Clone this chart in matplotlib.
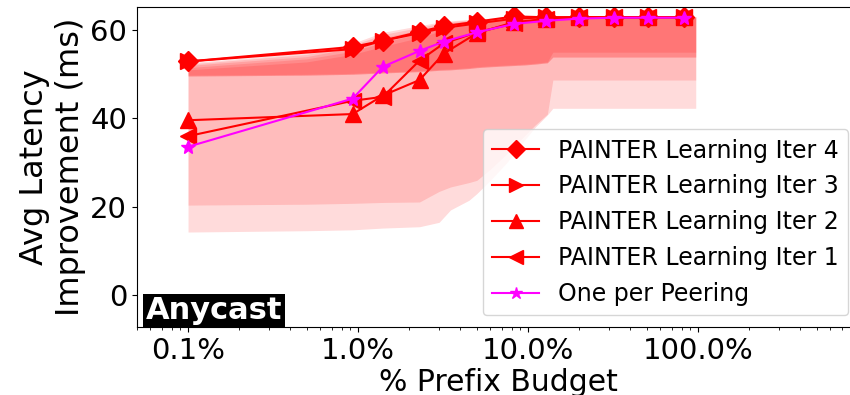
import numpy as np
import matplotlib.pyplot as plt
from matplotlib.ticker import FuncFormatter, LogLocator

# budget (% of prefixes) where each strategy was evaluated
budget = [0.1, 0.93, 1.4, 2.3, 3.2, 5.0, 8.3, 12.8, 20.0, 32.0, 51.0, 83.0]

iter4 = [52.9, 56.2, 57.6, 59.6, 60.9, 61.9, 63.1, 62.9, 62.9, 62.9, 62.9, 62.9]
iter3 = [52.9, 55.7, 57.6, 59.3, 60.5, 61.5, 62.6, 62.9, 62.9, 62.9, 62.9, 62.9]
iter2 = [39.6, 41.0, 45.2, 48.7, 54.7, 59.3, 61.8, 62.5, 62.9, 62.9, 62.9, 62.9]
iter1 = [36.0, 44.0, 44.9, 53.1, 57.0, 59.5, 61.5, 62.6, 62.9, 62.9, 62.9, 62.9]
one_per_peering = [33.6, 44.5, 51.7, 55.3, 57.4, 59.5, 61.4, 62.1, 62.6, 62.8, 62.8, 62.8]

# shaded spread, one layer per band (outer -> inner)
band_x = [0.1, 0.5, 0.93, 1.4, 2.3, 3.0, 3.5, 4.5, 5.0, 6.0, 7.5, 9.5, 11.0, 13.0, 14.0, 20.0, 50.0, 97.0]
band_lo = [
    [14.3, 14.6, 14.8, 15.2, 15.5, 16.5, 19.3, 21.5, 23.0, 26.0, 30.0, 35.0, 38.0, 40.8, 42.3, 42.3, 42.3, 42.3],
    [20.4, 20.6, 20.8, 21.0, 21.1, 23.5, 24.5, 25.5, 26.0, 28.5, 32.0, 36.0, 38.5, 41.0, 48.7, 48.7, 48.7, 48.7],
    [49.6, 49.8, 50.0, 50.3, 50.6, 50.9, 51.0, 51.3, 51.5, 51.7, 51.9, 52.1, 52.3, 52.6, 53.9, 53.9, 53.9, 53.9],
    [49.6, 49.8, 50.0, 50.3, 50.6, 50.9, 51.0, 51.3, 51.5, 51.7, 51.9, 52.1, 52.3, 52.6, 53.9, 53.9, 53.9, 53.9],
    [49.8, 50.0, 50.2, 50.5, 50.8, 51.1, 51.2, 51.5, 51.7, 51.9, 52.1, 52.3, 52.5, 52.8, 55.0, 55.0, 55.0, 55.0],
]
band_hi = [
    [52.6, 54.8, 57.0, 59.5, 61.0, 61.8, 62.1, 62.4, 62.5, 62.7, 62.9, 63.0, 63.0, 63.0, 63.0, 63.0, 63.0, 63.0],
    [52.3, 54.5, 56.6, 59.0, 60.6, 61.5, 61.9, 62.3, 62.4, 62.6, 62.8, 63.0, 63.0, 63.0, 63.0, 63.0, 63.0, 63.0],
    [52.0, 54.0, 56.0, 58.3, 60.0, 61.0, 61.6, 62.1, 62.3, 62.5, 62.7, 62.9, 63.0, 63.0, 63.0, 63.0, 63.0, 63.0],
    [51.5, 53.5, 55.2, 57.2, 59.2, 60.4, 61.1, 61.8, 62.0, 62.3, 62.6, 62.8, 63.0, 63.0, 63.0, 63.0, 63.0, 63.0],
    [51.0, 52.8, 54.5, 56.3, 58.3, 59.7, 60.6, 61.4, 61.8, 62.1, 62.5, 62.8, 63.0, 63.0, 63.0, 63.0, 63.0, 63.0],
]

fig = plt.figure(figsize=(8.5, 3.95), dpi=100)
ax = fig.add_axes([0.161, 0.172, 0.851, 0.810])

for lo, hi in zip(band_lo, band_hi):
    ax.fill_between(band_x, lo, hi, color='red', alpha=0.14, linewidth=0)

ax.plot(budget, iter4, color='red', marker='D', markersize=10, lw=1.5, label='PAINTER Learning Iter 4')
ax.plot(budget, iter3, color='red', marker='>', markersize=11, lw=1.5, label='PAINTER Learning Iter 3')
ax.plot(budget, iter2, color='red', marker='^', markersize=11, lw=1.5, label='PAINTER Learning Iter 2')
ax.plot(budget, iter1, color='red', marker='<', markersize=11, lw=1.5, label='PAINTER Learning Iter 1')
ax.plot(budget, one_per_peering, color='magenta', marker='*', markersize=10, lw=1.5, label='One per Peering')

ax.set_xscale('log')
ax.set_xlim(0.05, 900)
ax.set_ylim(-7.2, 65.2)
ax.xaxis.set_major_locator(LogLocator(base=10, numticks=10))
ax.xaxis.set_major_formatter(FuncFormatter(lambda v, p: f"{v:.1f}%"))
ax.set_yticks([0, 20, 40, 60])
ax.tick_params(axis='y', labelsize=21)
ax.tick_params(axis='x', labelsize=21)

ax.set_xlabel('% Prefix Budget', fontsize=21.5, labelpad=2)
ax.set_ylabel('Avg Latency\nImprovement (ms)', fontsize=23, labelpad=3)

ax.text(0.012, 0.005, 'Anycast', transform=ax.transAxes, fontsize=22, fontweight='bold',
        color='white', va='bottom', ha='left',
        bbox=dict(facecolor='black', edgecolor='none', pad=2))

ax.legend(loc='lower right', fontsize=17, markerscale=0.9)

fig.savefig('out.png', dpi=100)
